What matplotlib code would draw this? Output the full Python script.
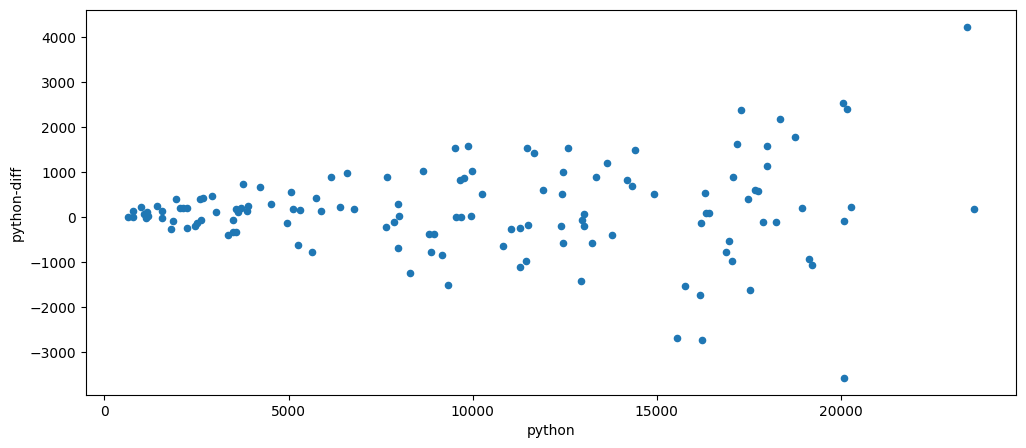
#!/usr/bin/env python3

import pandas as pd
import matplotlib
matplotlib.use('Agg')
import matplotlib.pyplot as plt

# values
python = [647, 783, 783, 1000, 1073, 1163, 1136, 1182, 1435, 1571, 1571,
          1951, 1870, 1815, 2043, 2133, 2234, 2250, 2459, 2522, 2630, 2595,
          2685, 2929, 3038, 3364, 3500, 3565, 3500, 3565, 3628, 3701, 3864,
          3908, 3772, 4234, 4533, 4967, 5076, 5122, 5304, 5266, 5647, 5755,
          5891, 6163, 6598, 6408, 6788, 7685, 7658, 7875, 7984, 8011, 7984,
          8310, 8663, 8818, 8962, 8880, 9179, 9342, 9533, 9886, 9995, 9668,
          9777, 9560, 9679, 9967, 10266, 10837, 11054, 11299, 11516, 11299,
          11462, 11489, 11679, 11897, 12576, 12440, 12413, 12386, 12440,
          13011, 12957, 13011, 12929, 13228, 13337, 13636, 13772, 14179,
          14315, 14397, 14913, 15538, 15755, 16163, 16217, 16190, 16299,
          16326, 16408, 16870, 16951, 17033, 17060, 17168, 17467, 17658,
          17739, 17522, 17277, 18337, 18745, 17984, 17984, 17880, 18228,
          18935, 20049, 20158, 20266, 20076, 19125, 19206, 23418, 23609,
          20076]
python_diff = [0, 140, 0, 222, 67, 111, -22, 36, 251, 140, -22,
               400, -89, -267, 200, 200, 200, -244, -193, -120, -67, 400,
               422, 467, 111, -400, -333, -327, -67, 178, 111, 200, 140,
               251, 733, 667, 296, -133, 556, 184, 156, -622, -778, 444,
               140, 889, 978, 244, 178, 889, -222, -111, 289, 22, -689,
               -1244, 1022, -356, -378, -778, -844, -1511, 1533, 1578, 1022, 822,
               867, 0, 0, 44, 511, -644, -267, -244, -178, -1111,
               -956, 1533, 1422, 600, 1533, 1000, 511, -200, -578,
               67, -67, -200, -1422, -578, 889, 1200, -400, 844,
               689, 1489, 511, -2689, -1533, -1733, -2733, -133, 533,
               89, 89, -778, -533, -956, 889, 1622, 400, 600,
               578, -1622, 2378, 2178, 1778, 1578, 1133, -111, -111,
               200, 2533, 2400, 222, -89, -933, -1067, 4222, 178,
               -3556]

df = pd.DataFrame({'python': python, 'python-diff': python_diff})

fig, ax = plt.subplots(figsize=(10.26, 4.48), dpi=100)
df.plot.scatter(x='python', y='python-diff', ax=ax)
fig.subplots_adjust(left=0.0838, right=0.9903, top=0.9777, bottom=0.1183)
fig.savefig('out.png', dpi=100)
